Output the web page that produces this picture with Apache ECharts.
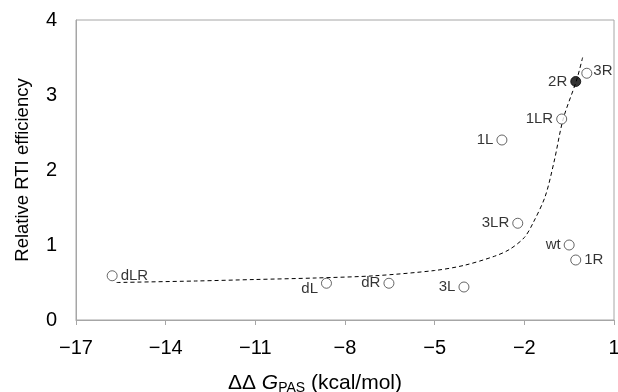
<!DOCTYPE html>
<html>
<head>
<meta charset="utf-8">
<script src="https://cdn.jsdelivr.net/npm/echarts@6/dist/echarts.min.js"></script>
<style>
  html, body { margin: 0; padding: 0; background: #fff; }
  #chart { width: 618px; height: 392px; }
</style>
</head>
<body>
<div id="chart"></div>
<script>
// mutants: ddG_PAS (kcal/mol) vs relative RTI efficiency
const names = ["dLR", "dL", "dR", "3L", "3LR", "1L", "1LR", "wt", "1R", "2R", "3R"];
const ddG = [-15.79, -8.62, -6.53, -4.02, -2.22, -2.75, -0.75, -0.5, -0.28, -0.28, 0.09];
const efficiency = [0.59, 0.49, 0.49, 0.44, 1.29, 2.4, 2.68, 1.0, 0.8, 3.18, 3.29];

// dashed trend line
const fitX = [-15.64, -13, -11, -9, -7, -5, -4, -3, -2.5, -2, -1.7, -1.3, -1.0, -0.7, -0.25, -0.05];
const fitY = [0.5, 0.52, 0.54, 0.56, 0.59, 0.66, 0.73, 0.85, 0.94, 1.1, 1.3, 1.65, 2.12, 2.68, 3.2, 3.5];

const labelSide = { dLR: "right", "1R": "right", "3R": "right" };

const chart = echarts.init(document.getElementById("chart"));
const font = "Liberation Sans, Arial, sans-serif";

const points = names.map((n, i) => ({
  value: [ddG[i], efficiency[i]],
  itemStyle: n === "2R" ? { color: "#000", borderColor: "#000" } : undefined,
  label: {
    position: labelSide[n] || "left",
    distance: n === "3R" ? 1 : 3,
    offset: n === "dL" ? [0, 6] : n === "3R" ? [0, -2] : [0, 0]
  }
}));

chart.setOption({
  animation: false,
  grid: {
    left: 76, right: 4, top: 20, bottom: 72,
    outerBoundsMode: "none", containLabel: false,
    show: true, borderColor: "#a6a6a6", borderWidth: 1
  },
  xAxis: {
    type: "value", min: -17, max: 1, interval: 3,
    axisLine: { lineStyle: { color: "#a6a6a6" } },
    axisTick: { show: true, length: 5, lineStyle: { color: "#a6a6a6" } },
    splitLine: { show: false },
    axisLabel: {
      color: "#000", fontSize: 20, fontFamily: font, margin: 18,
      formatter: v => String(v).replace("-", "\u2212")
    },
    name: "{d|\u0394\u0394 }{g|G}{s|PAS}{d| (kcal/mol)}",
    nameLocation: "middle", nameGap: 52,
    nameTextStyle: {
      padding: [0, 60, 0, 0],
      rich: {
        d: { fontSize: 21, fontFamily: font, color: "#000" },
        g: { fontSize: 21, fontFamily: font, color: "#000", fontStyle: "italic" },
        s: { fontSize: 14, fontFamily: font, color: "#000", padding: [9, 0, 0, 0] }
      }
    }
  },
  yAxis: {
    type: "value", min: 0, max: 4, interval: 1,
    axisLine: { show: true, onZero: false, lineStyle: { color: "#a6a6a6" } },
    axisTick: { show: false },
    splitLine: { show: false },
    axisLabel: { color: "#000", fontSize: 20, fontFamily: font, margin: 19 },
    name: "Relative RTI efficiency",
    nameLocation: "middle", nameGap: 44,
    nameTextStyle: { color: "#000", fontSize: 18.5, fontFamily: font }
  },
  series: [
    {
      type: "line",
      data: fitX.map((x, i) => [x, fitY[i]]),
      smooth: 0.3, showSymbol: false, symbol: "none",
      lineStyle: { color: "#000", width: 1, type: [4, 3] },
      z: 1
    },
    {
      type: "scatter",
      data: points,
      symbol: "circle", symbolSize: 10,
      itemStyle: { color: "#fff", borderColor: "#404040", borderWidth: 1 },
      label: {
        show: true, color: "#000", fontSize: 15, fontFamily: font,
        formatter: p => names[p.dataIndex]
      },
      z: 3
    }
  ]
});
</script>
</body>
</html>
